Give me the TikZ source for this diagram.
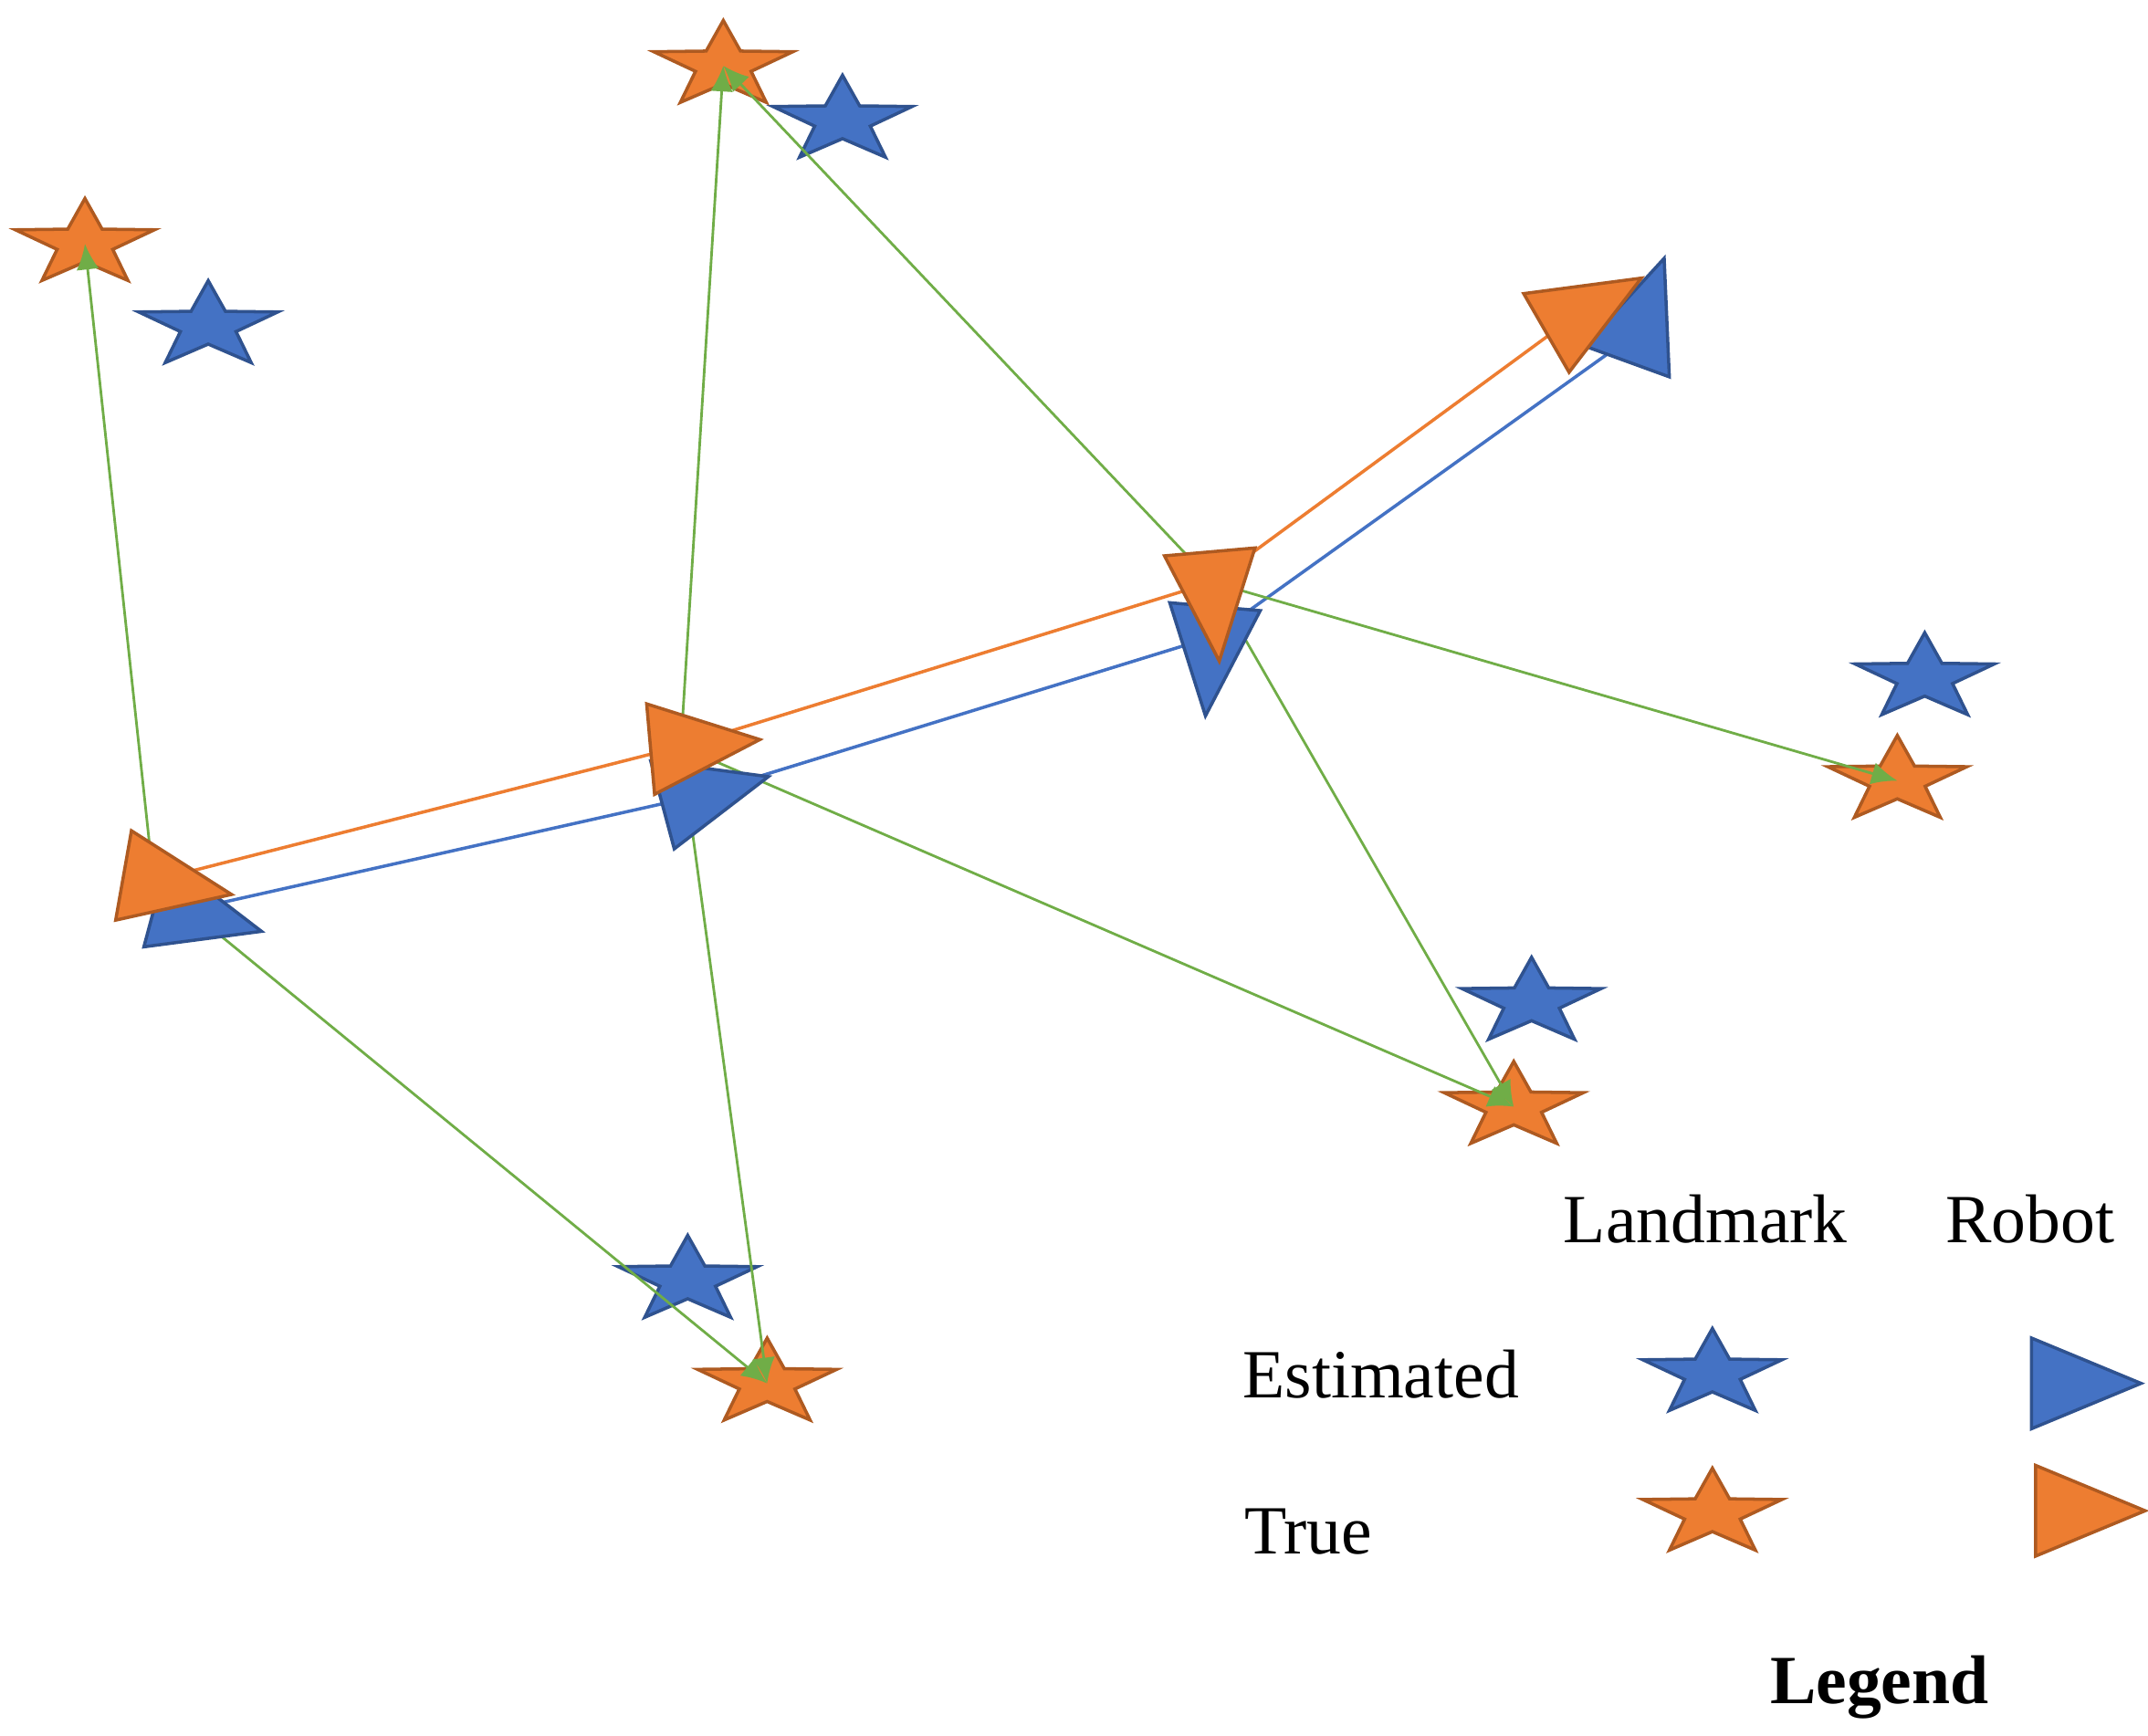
\documentclass[tikz,border=0pt]{standalone}
\usetikzlibrary{shapes.geometric,arrows.meta}
\usepackage{fontspec}
\setmainfont{Liberation Serif}
\definecolor{org}{HTML}{ED7D31}\definecolor{orgd}{HTML}{AE5A21}
\definecolor{blu}{HTML}{4472C4}\definecolor{blud}{HTML}{2F528F}
\definecolor{grn}{HTML}{70AD47}
\tikzset{
 stbase/.style={star,star points=5,star point ratio=2.5,minimum size=1.6cm,inner sep=0,line width=1pt,transform shape,yscale=0.62},
 ostar/.style={stbase,fill=org,draw=orgd},
 bstar/.style={stbase,fill=blu,draw=blud},
 tri/.style={isosceles triangle,isosceles triangle apex angle=45,minimum height=1.2cm,inner sep=0,line width=1pt},
 otri/.style={tri,fill=org,draw=orgd},
 btri/.style={tri,fill=blu,draw=blud},
 gl/.style={grn,line width=0.8pt,-{Latex[length=8pt,width=7pt]}},
 lbl/.style={font=\fontsize{21.5}{26}\selectfont}
}
\begin{document}
\begin{tikzpicture}[x=0.015cm,y=-0.015cm]
\useasboundingbox (0,0) rectangle (1568,1267);
% estimated stars
\node[bstar] (b1) at (615,88) {};
\node[bstar] (b2) at (152,238) {};
\node[bstar] (b3) at (1405,495) {};
\node[bstar] (b4) at (1118,732) {};
\node[bstar] (b5) at (502,935) {};
% true stars
\node[ostar] (s1) at (528,48) {};
\node[ostar] (s2) at (62,178) {};
\node[ostar] (s3) at (1385,570) {};
\node[ostar] (s4) at (1105,808) {};
\node[ostar] (s5) at (560,1010) {};
% robot centers
\coordinate (r1) at (112,643); \coordinate (q1) at (135,665);
\coordinate (r2) at (497,545); \coordinate (q2) at (505,582);
\coordinate (r3) at (885,425); \coordinate (q3) at (885,465);
\coordinate (r4) at (1148,232); \coordinate (q4) at (1195,243);
% paths
\draw[blu,line width=1pt] (q1)--(q2)--(q3)--(q4);
\draw[org,line width=1pt] (r1)--(r2)--(r3)--(r4);
% observations
\draw[gl] (r1)--(s2.center);
\draw[gl] (r1)--(s5.center);
\draw[gl] (r2)--(s1.center);
\draw[gl] (r2)--(s5.center);
\draw[gl] (r2)--(s4.center);
\draw[gl] (r3)--(s1.center);
\draw[gl] (r3)--(s3.center);
\draw[gl] (r3)--(s4.center);
% robots
\node[btri,rotate=-15] (B1) at (q1) {};
\node[otri,rotate=-10] (O1) at (r1) {};
\node[btri,rotate=15] (B2) at (q2) {};
\node[otri,rotate=5] (O2) at (r2) {};
\node[btri,rotate=-95] (B3) at (q3) {};
\node[otri,rotate=-85] (O3) at (r3) {};
\node[btri,rotate=70] (B4) at (q4) {};
\node[otri,rotate=30] (O4) at (r4) {};
% legend
\node[lbl] (lL) at (1245,890) {Landmark};
\node[lbl] (lR) at (1482,890) {Robot};
\node[lbl] (lE) at (1008,1003) {Estimated};
\node[lbl] (lT) at (955,1118) {True};
\node[bstar] (le1) at (1250,1003) {};
\node[ostar] (le2) at (1250,1105) {};
\node[btri] (le3) at (1505,1010) {};
\node[otri] (le4) at (1508,1103) {};
\node[lbl,font=\bfseries\fontsize{21.5}{26}\selectfont] (lg) at (1372,1232) {Legend};
\end{tikzpicture}
\end{document}
